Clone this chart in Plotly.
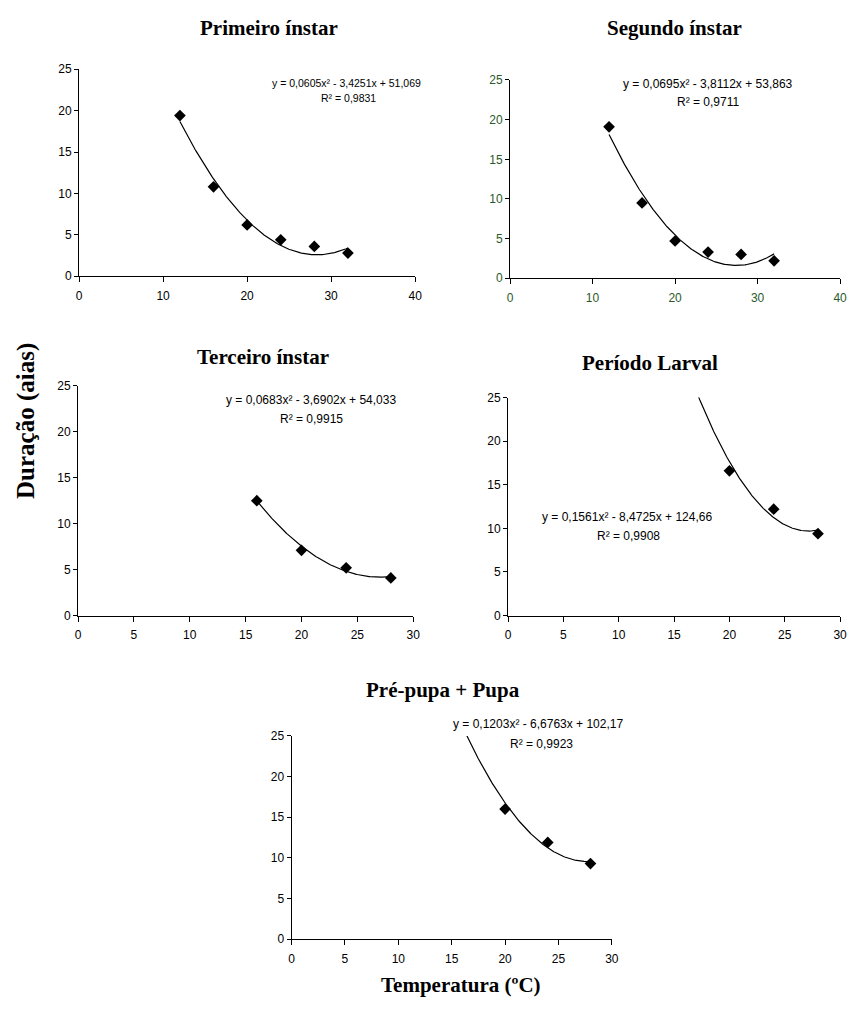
import numpy as np
import plotly.graph_objects as go

W, H = 857, 1028

# ---- data ----
temp_p1 = [12, 16, 20, 24, 28, 32]
dur_p1 = [19.4, 10.8, 6.2, 4.4, 3.6, 2.8]
coef_p1 = [0.0605, -3.4251, 51.069]

temp_p2 = [12, 16, 20, 24, 28, 32]
dur_p2 = [19.1, 9.5, 4.7, 3.3, 3.0, 2.2]
coef_p2 = [0.0695, -3.8112, 53.863]

temp_p3 = [16, 20, 24, 28]
dur_p3 = [12.5, 7.1, 5.2, 4.1]
coef_p3 = [0.0683, -3.6902, 54.033]

temp_p4 = [20, 24, 28]
dur_p4 = [16.6, 12.2, 9.4]
coef_p4 = [0.1561, -8.4725, 124.66]

temp_p5 = [20, 24, 28]
dur_p5 = [16.0, 11.9, 9.3]
coef_p5 = [0.1203, -6.6763, 102.17]

titles = ["Primeiro ínstar", "Segundo ínstar", "Terceiro ínstar", "Período Larval", "Pré-pupa + Pupa"]
eq_texts = [
    ("y = 0,0605x² - 3,4251x + 51,069", "R² = 0,9831"),
    ("y = 0,0695x² - 3,8112x + 53,863", "R² = 0,9711"),
    ("y = 0,0683x² - 3,6902x + 54,033", "R² = 0,9915"),
    ("y = 0,1561x² - 8,4725x + 124,66", "R² = 0,9908"),
    ("y = 0,1203x² - 6,6763x + 102,17", "R² = 0,9923"),
]
x_max = [40, 40, 30, 30, 30]
x_dtick = [10, 10, 5, 5, 5]
trend_start = [12, 12, 16, 16, 16]

# ---- layout positions (pixels) ----
boxes = [  # x0, x1, ytop, ybottom
    (77, 417, 63, 273),
    (513, 847, 74, 275),
    (76, 415, 384, 617),
    (511, 847, 396, 617),
    (292, 616, 739, 945),
]
title_pos = [(269, 21), (679, 21), (263, 355), (655, 361), (445, 692)]
eq_pos = [((348, 77), (350, 92)), ((713, 78), (713, 96)), ((312, 398), (312, 418)),
          ((631, 517), (633, 536)), ((541, 727), (545, 747))]
eq_size = [10.5, 12, 12, 12, 12]
tick_color = ["black", "#2a5a2a", "black", "black", "black"]

datasets = [(temp_p1, dur_p1, coef_p1), (temp_p2, dur_p2, coef_p2), (temp_p3, dur_p3, coef_p3),
            (temp_p4, dur_p4, coef_p4), (temp_p5, dur_p5, coef_p5)]

SERIF = "Liberation Serif, Times New Roman, serif"

fig = go.Figure()
layout = dict(width=W, height=H, margin=dict(l=0, r=0, t=0, b=0),
              paper_bgcolor="white", plot_bgcolor="white", showlegend=False)
annotations = []

for i, ((xs, ys, cf), box) in enumerate(zip(datasets, boxes)):
    n = "" if i == 0 else str(i + 1)
    xa, ya = "x" + n, "y" + n
    xt = np.linspace(trend_start[i], xs[-1], 200)
    yt = np.polyval(cf, xt)
    fig.add_trace(go.Scatter(x=xt, y=yt, mode="lines", line=dict(color="black", width=1.2),
                             xaxis=xa, yaxis=ya, hoverinfo="skip"))
    fig.add_trace(go.Scatter(x=xs, y=ys, mode="markers",
                             marker=dict(symbol="diamond", size=9, color="black"),
                             xaxis=xa, yaxis=ya, cliponaxis=False))
    x0, x1, yt_, yb = box
    axfont = dict(family="Arial", size=12, color=tick_color[i])
    layout["xaxis" + n] = dict(domain=[x0 / W, x1 / W], anchor=ya, range=[0, x_max[i]],
                               dtick=x_dtick[i], tick0=0, showgrid=False, zeroline=False,
                               showline=True, linecolor="black", linewidth=1,
                               ticks="outside", ticklen=5, tickcolor="black",
                               ticklabelstandoff=3,
                               tickfont=axfont, fixedrange=True)
    layout["yaxis" + n] = dict(domain=[1 - yb / H, 1 - yt_ / H], anchor=xa, range=[0, 25],
                               dtick=5, tick0=0, showgrid=False, zeroline=False,
                               showline=True, linecolor="black", linewidth=1,
                               ticks="outside", ticklen=4, tickcolor="black",
                               tickfont=axfont, fixedrange=True)
    tx, ty = title_pos[i]
    annotations.append(dict(text="<b>" + titles[i] + "</b>", x=tx / W, y=1 - ty / H,
                            xref="paper", yref="paper", showarrow=False,
                            xanchor="center", yanchor="middle",
                            font=dict(family=SERIF, size=21, color="black")))
    (ex, ey), (rx, ry) = eq_pos[i]
    eq, r2 = eq_texts[i]
    for txt, px, py in ((eq, ex, ey), (r2, rx, ry)):
        annotations.append(dict(text=txt, x=px / W, y=1 - py / H, xref="paper", yref="paper",
                                showarrow=False, xanchor="center", yanchor="middle",
                                font=dict(family="Arial", size=eq_size[i], color="black")))

annotations.append(dict(text="<b>Duração (aias)</b>", x=24 / W, y=1 - 420 / H, xref="paper",
                        yref="paper", showarrow=False, textangle=-90, xanchor="center",
                        yanchor="middle",
                        font=dict(family=SERIF, size=25, color="black")))
annotations.append(dict(text="<b>Temperatura (ºC)</b>", x=463 / W, y=1 - 991 / H, xref="paper",
                        yref="paper", showarrow=False, xanchor="center", yanchor="middle",
                        font=dict(family=SERIF, size=21, color="black")))

layout["annotations"] = annotations
fig.update_layout(**layout)
fig.write_html("out.html")
